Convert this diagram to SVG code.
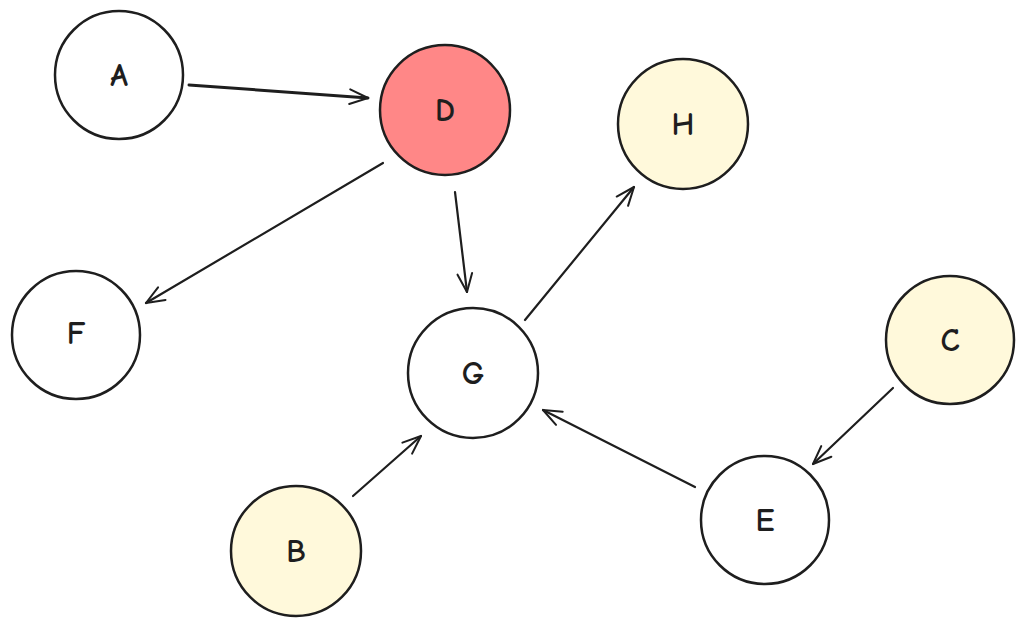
<svg xmlns="http://www.w3.org/2000/svg" width="1026" height="627" viewBox="0 0 1026 627">
<style>
.n{stroke:#1e1e1e;stroke-width:2.5;fill:#ffffff}
.d{fill:#ff8787}
.y{fill:#fff9db}
.t{font-family:"Comic Neue","Liberation Sans",sans-serif;font-size:32px;font-weight:bold;fill:#1e1e1e;text-anchor:middle;dominant-baseline:central}
.e{stroke:#1e1e1e;stroke-width:2.2;fill:none;stroke-linecap:round;marker-end:url(#ah)}
</style>
<defs>
<marker id="ah" viewBox="0 0 24 24" refX="22" refY="12" markerWidth="22" markerHeight="22" markerUnits="userSpaceOnUse" orient="auto">
<path d="M2,4 L22,12 L2,20" fill="none" stroke="#1e1e1e" stroke-width="2.2" stroke-linecap="round" stroke-linejoin="round"/>
</marker>
</defs>
<rect width="1026" height="627" fill="#ffffff"/>
<g id="edges">
<path class="e" d="M189,85 L368,98" style="stroke-width:3"/>
<path class="e" d="M383,163 L146,303"/>
<path class="e" d="M455,192 L467,292"/>
<path class="e" d="M525,320 L634,187"/>
<path class="e" d="M893,388 L813,464"/>
<path class="e" d="M695,487 L543,410"/>
<path class="e" d="M353,496 L421,436"/>
</g>
<g id="A"><circle class="n" cx="119" cy="75" r="64"/><text class="t" x="119" y="75">A</text></g>
<g id="D"><circle class="n d" cx="445" cy="110" r="65"/><text class="t" x="445" y="110">D</text></g>
<g id="H"><circle class="n y" cx="683" cy="124" r="65"/><text class="t" x="683" y="124">H</text></g>
<g id="F"><circle class="n" cx="76" cy="335" r="64"/><text class="t" x="76" y="333">F</text></g>
<g id="G"><circle class="n" cx="473" cy="373" r="65"/><text class="t" x="473" y="373">G</text></g>
<g id="C"><circle class="n y" cx="950" cy="340" r="64"/><text class="t" x="950" y="340">C</text></g>
<g id="E"><circle class="n" cx="765" cy="520" r="64"/><text class="t" x="765" y="520">E</text></g>
<g id="B"><circle class="n y" cx="296" cy="551" r="65"/><text class="t" x="296" y="551">B</text></g>
</svg>
